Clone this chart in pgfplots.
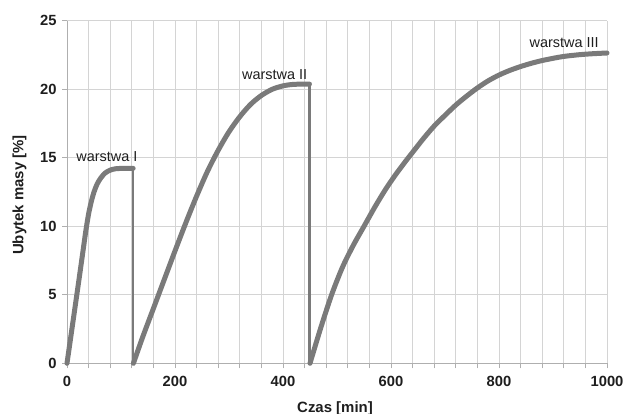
\documentclass[border=0pt]{standalone}
\usepackage{pgfplots}
\pgfplotsset{compat=1.18}
\usepackage{fontspec}
\setmainfont{Liberation Sans}
\usetikzlibrary{calc}
\definecolor{curve}{RGB}{122,122,122}
\definecolor{gridc}{RGB}{212,212,212}
\definecolor{axc}{RGB}{175,175,175}
\definecolor{txt}{RGB}{30,30,30}
\begin{document}
\begin{tikzpicture}
\begin{axis}[
  at={(0,0)}, anchor=south west,
  scale only axis, width=540bp, height=342.5bp,
  xmin=0, xmax=1000, ymin=0, ymax=25,
  xtick={0,200,...,1000}, minor x tick num=4,
  ytick={0,5,...,25},
  grid=both,
  major grid style={gridc, line width=0.8bp},
  minor grid style={gridc, line width=0.8bp},
  axis lines=left,
  axis line style={axc, line width=0.9bp, -},
  tick align=outside,
  major tick length=5bp, minor tick length=5bp,
  tick style={axc, line width=0.8bp},
  /pgf/number format/assume math mode=true,
  /pgf/number format/1000 sep={},
  ticklabel style={font=\fontsize{14.8}{16}\selectfont\bfseries, text=txt},
  xticklabel style={yshift=-4bp},
  yticklabel style={xshift=-2bp},
  clip=false,
]
% segment 1
\addplot[curve, line width=5bp, line join=round, line cap=round, smooth, tension=0.5] coordinates {
(0,0) (10,2.75) (20,5.5) (30,8.3) (35,9.7) (40,10.9) (45,11.8) (50,12.5) (56,13.1) (63,13.55) (71,13.9) (80,14.1) (90,14.2) (105,14.23) (122.5,14.23)
};
\addplot[curve, line width=2.4bp] coordinates {(122.5,14.23) (122.5,0)};
% segment 2
\addplot[curve, line width=5bp, line join=round, line cap=round, smooth, tension=0.5] coordinates {
(123,0) (140,1.9) (160,4.0) (180,6.1) (200,8.2) (220,10.25) (240,12.2) (260,14.0) (280,15.55) (300,16.9) (320,18.0) (340,18.9) (360,19.55) (380,20.0) (400,20.25) (420,20.36) (449,20.38)
};
\addplot[curve, line width=2.4bp] coordinates {(449,20.38) (449,0)};
% segment 3
\addplot[curve, line width=5bp, line join=round, line cap=round, smooth, tension=0.5] coordinates {
(450,0) (470,2.6) (490,5.0) (510,7.0) (530,8.6) (550,10.0) (570,11.4) (590,12.7) (610,13.85) (630,14.9) (640,15.4) (660,16.4) (680,17.32) (700,18.1) (720,18.85) (740,19.5) (760,20.1) (780,20.62) (800,21.04) (820,21.38) (840,21.66) (860,21.9) (880,22.1) (900,22.26) (920,22.40) (950,22.53) (975,22.6) (1000,22.65)
};
\node[anchor=base, font=\fontsize{14.5}{16}\selectfont, text=txt] at (axis cs:74,14.72) {warstwa I};
\node[anchor=base, font=\fontsize{14.5}{16}\selectfont, text=txt] at (axis cs:384.6,20.68) {warstwa II};
\node[anchor=base, font=\fontsize{14.5}{16}\selectfont, text=txt] at (axis cs:920.6,23.07) {warstwa III};
\end{axis}
\node[anchor=base, font=\fontsize{15}{17}\selectfont\bfseries, text=txt] at (268bp,-49bp) {Czas [min]};
\node[rotate=90, anchor=base, font=\fontsize{15}{17}\selectfont\bfseries, text=txt] at (-43.7bp,168.3bp) {Ubytek masy [\%]};
\pgfresetboundingbox
\path (-67bp,-50.7bp) rectangle (559bp,363.3bp);
\end{tikzpicture}
\end{document}
